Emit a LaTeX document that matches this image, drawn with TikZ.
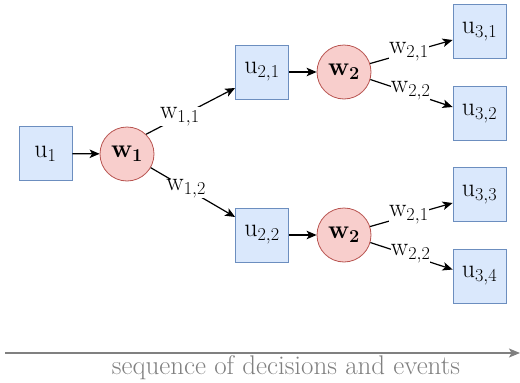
\RequirePackage{fix-cm}
\documentclass[tikz,border=0pt]{standalone}
\usetikzlibrary{arrows.meta,calc}
\definecolor{boxfill}{HTML}{DAE8FC}
\definecolor{boxdraw}{HTML}{6C8EBF}
\definecolor{circfill}{HTML}{F8CECC}
\definecolor{circdraw}{HTML}{B85450}
\definecolor{axisgray}{HTML}{808080}
\tikzset{
  ubox/.style={draw=boxdraw, fill=boxfill, line width=0.8pt, minimum width=53pt, minimum height=54pt, inner sep=0pt, font=\fontsize{26}{29}\selectfont},
  wcirc/.style={circle, draw=circdraw, fill=circfill, line width=0.8pt, minimum size=54pt, inner sep=0pt, font=\fontsize{26}{29}\selectfont},
  conn/.style={line width=1.2pt, -{Stealth[length=10pt,width=8.5pt,inset=2.5pt]}},
  elab/.style={fill=white, inner sep=0pt, font=\fontsize{26}{29}\selectfont},
}
\begin{document}
\begin{tikzpicture}[x=1pt,y=-1pt]
\useasboundingbox (0,0) rectangle (520,383);
\node[ubox] (u1) at (45.5,153.5) {$\mathrm{u}_1$};
\node[wcirc] (w1) at (127,154) {$\mathbf{w_1}$};
\node[ubox] (u21) at (262,72) {$\mathrm{u}_{2,1}$};
\node[ubox] (u22) at (262,235) {$\mathrm{u}_{2,2}$};
\node[wcirc] (w2a) at (344,72) {$\mathbf{w_2}$};
\node[wcirc] (w2b) at (344,235) {$\mathbf{w_2}$};
\node[ubox] (u31) at (479.5,31.5) {$\mathrm{u}_{3,1}$};
\node[ubox] (u32) at (479.5,113.5) {$\mathrm{u}_{3,2}$};
\node[ubox] (u33) at (479.5,194.5) {$\mathrm{u}_{3,3}$};
\node[ubox] (u34) at (479.5,276) {$\mathrm{u}_{3,4}$};

\draw[conn] (u1) -- (w1);
\draw[conn] (u21) -- (w2a);
\draw[conn] (u22) -- (w2b);
\draw[conn] (w1.46) -- node[elab, pos=0.38] {$\mathrm{w}_{1,1}$} ([yshift=-16pt]u21.west);
\draw[conn] (w1.-30) -- node[elab, pos=0.42] {$\mathrm{w}_{1,2}$} ([yshift=18pt]u22.west);
\draw[conn] (w2a.18) -- node[elab, pos=0.47, yshift=1pt] {$\mathrm{w}_{2,1}$} ([yshift=-8.5pt]u31.west);
\draw[conn] (w2a.-16) -- node[elab, pos=0.49, yshift=2pt] {$\mathrm{w}_{2,2}$} ([yshift=6.5pt]u32.west);
\draw[conn] (w2b.18) -- node[elab, pos=0.47, yshift=1pt] {$\mathrm{w}_{2,1}$} ([yshift=-8.5pt]u33.west);
\draw[conn] (w2b.-16) -- node[elab, pos=0.49, yshift=2pt] {$\mathrm{w}_{2,2}$} ([yshift=6.5pt]u34.west);

\coordinate (a0) at (5,353);
\coordinate (a1) at (520,353);
\draw[axisgray, line width=1.2pt, -{Stealth[length=11pt,width=9pt,inset=2.5pt]}] (a0) -- (a1);
\node[text=axisgray, font=\fontsize{27}{30}\selectfont, inner sep=0pt, anchor=base] (lab) at (286,374) {sequence of decisions and events};
\end{tikzpicture}
\end{document}
